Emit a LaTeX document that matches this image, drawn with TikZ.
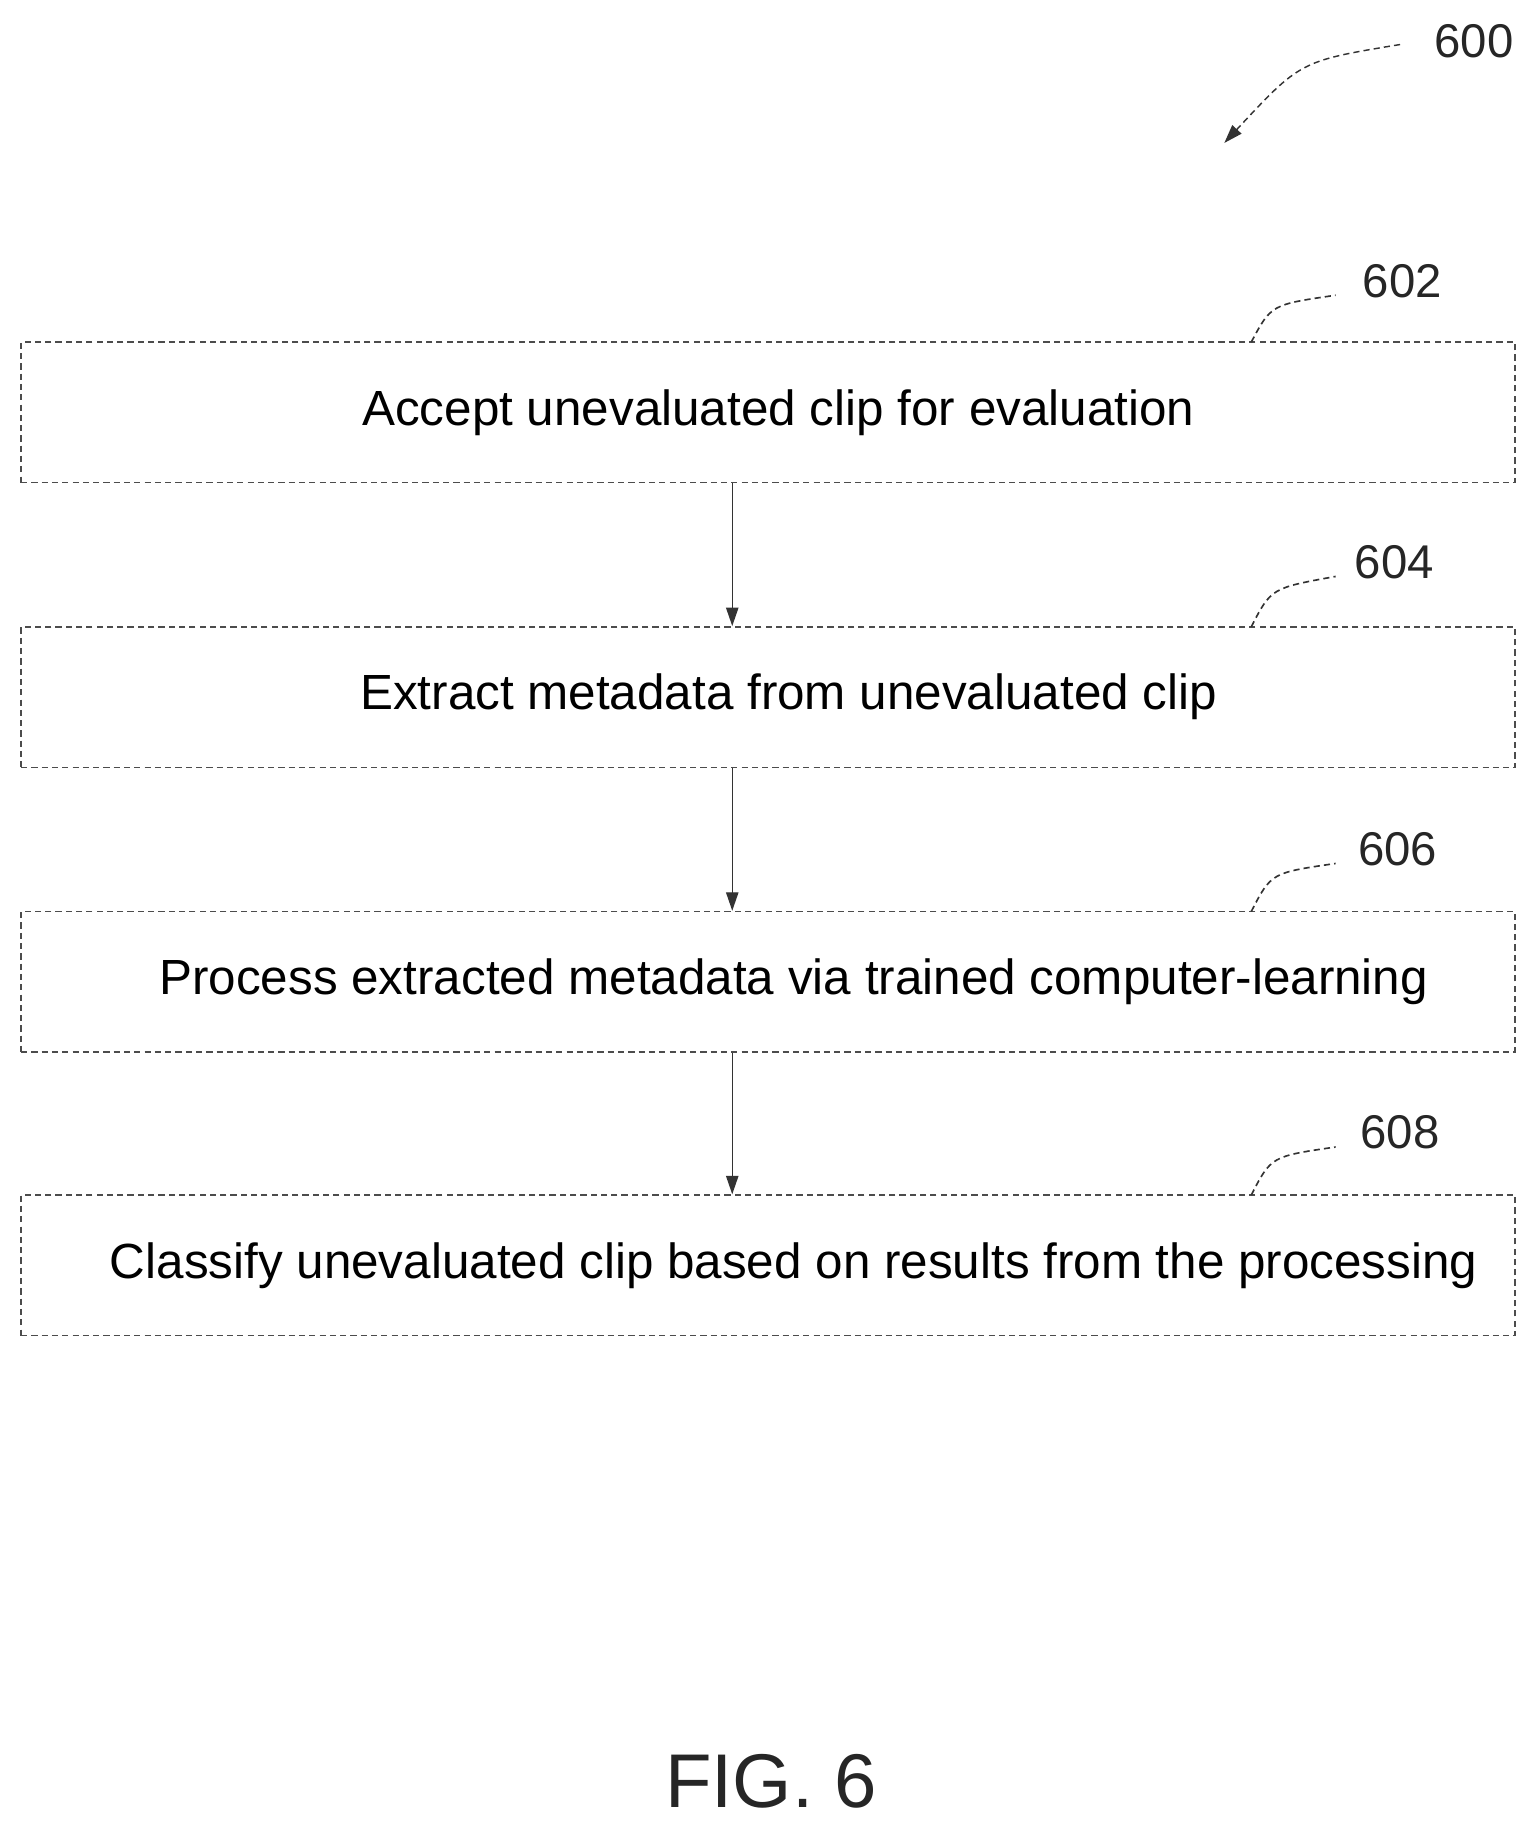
\documentclass[tikz,border=0pt]{standalone}
\usepackage{fontspec}
\setmainfont{Liberation Sans}
\usetikzlibrary{arrows.meta}
\begin{document}
\begin{tikzpicture}[x=0.02cm,y=-0.02cm,
  box/.style={draw=black!70,densely dashed,line width=0.7pt,minimum width=1275*0.02cm,minimum height=120*0.02cm,inner sep=0pt,font=\fontsize{24}{27}\selectfont},
  lbl/.style={font=\fontsize{23}{26}\selectfont,text=black!85},
  lead/.style={draw=black!80,densely dashed,line width=0.8pt},
  arr/.style={draw=black!80,line width=0.7pt,-{Triangle[length=9pt,width=6pt]}}]
\useasboundingbox (0,0) rectangle (1301,1556);
\node[box] (b1) at (655.5,352) {\hspace*{10pt}Accept unevaluated clip for evaluation};
\node[box] (b2) at (655.5,595) {\hspace*{20pt}Extract metadata from unevaluated clip};
\node[box] (b3) at (655.5,838) {\hspace*{25pt}Process extracted metadata via trained computer-learning};
\node[box] (b4) at (655.5,1080) {\hspace*{25pt}Classify unevaluated clip based on results from the processing};
\draw[arr] (b1.south -| 625,0) -- (b2.north -| 625,0);
\draw[arr] (b2.south -| 625,0) -- (b3.north -| 625,0);
\draw[arr] (b3.south -| 625,0) -- (b4.north -| 625,0);
\node[lbl] (l2) at (1197,240) {602};
\node[lbl] (l4) at (1190,480) {604};
\node[lbl] (l6) at (1193,725) {606};
\node[lbl] (l8) at (1195,966) {608};
\coordinate (c2) at (1068,292);
\coordinate (c4) at (1068,535);
\coordinate (c6) at (1068,778);
\coordinate (c8) at (1068,1020);
\draw[lead] (c2) .. controls (1085,260) .. (1140,252);
\draw[lead] (c4) .. controls (1085,502) .. (1140,492);
\draw[lead] (c6) .. controls (1085,745) .. (1140,737);
\draw[lead] (c8) .. controls (1085,987) .. (1140,979);
\node[lbl] (l0) at (1258,35) {600};
\coordinate (s0) at (1195,38);
\coordinate (e0) at (1045,122);
\draw[arr,densely dashed] (s0) .. controls (1110,52) .. (e0);
\node[font=\fontsize{37}{40}\selectfont,text=black!85] (fig) at (658,1520) {FIG. 6};
\end{tikzpicture}
\end{document}
